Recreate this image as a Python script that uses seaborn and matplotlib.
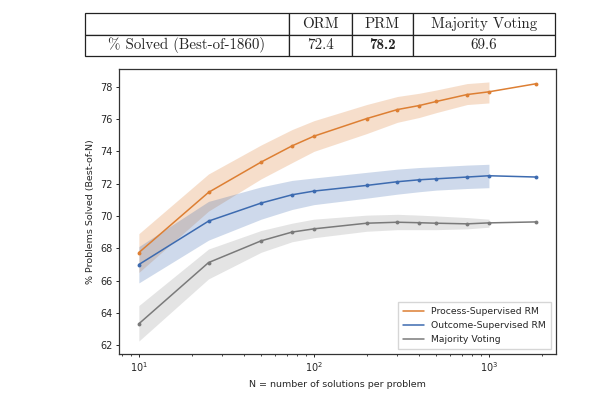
import numpy as np
import pandas as pd
import matplotlib
matplotlib.use('Agg')
import matplotlib.pyplot as plt
import seaborn as sns

# values
n_samples = [10, 25, 50, 75, 100, 200, 300, 400, 500, 750, 1000, 1860]
prm = [67.73, 71.46, 73.34, 74.34, 74.94, 76.03, 76.59, 76.84, 77.09, 77.52, 77.69, 78.19]
orm = [66.99, 69.68, 70.80, 71.31, 71.54, 71.89, 72.12, 72.24, 72.30, 72.41, 72.49, 72.41]
maj = [63.32, 67.11, 68.46, 69.00, 69.20, 69.55, 69.61, 69.58, 69.55, 69.51, 69.57, 69.63]

# shaded bands only go up to N=1000
band_n = n_samples[:11]
prm_hi = [68.9, 72.6, 74.4, 75.35, 75.9, 76.9, 77.4, 77.6, 77.8, 78.2, 78.3]
prm_lo = [66.5, 70.3, 72.3, 73.3, 74.0, 75.1, 75.8, 76.1, 76.4, 76.9, 77.0]
orm_hi = [68.1, 70.9, 71.8, 72.2, 72.35, 72.7, 72.9, 73.0, 73.05, 73.15, 73.2]
orm_lo = [65.85, 68.5, 69.8, 70.4, 70.7, 71.1, 71.35, 71.5, 71.6, 71.7, 71.75]
maj_hi = [64.45, 67.95, 69.1, 69.55, 69.8, 70.05, 70.1, 70.05, 70.0, 69.9, 69.8]
maj_lo = [62.25, 66.1, 67.75, 68.4, 68.65, 69.05, 69.15, 69.15, 69.15, 69.2, 69.3]

series_names = ['Process-Supervised RM', 'Outcome-Supervised RM', 'Majority Voting']
table_cols = ['', 'ORM', 'PRM', 'Majority Voting']
table_row = ['% Solved (Best-of-1860)', '72.4', '78.2', '69.6']

colors = ['#dd7f33', '#3d6bb0', '#7a7a7a']
band_alpha = [0.25, 0.25, 0.2]

sns.set_style('ticks')
plt.rcParams['font.family'] = ['DejaVu Sans']

fig = plt.figure(figsize=(6.12, 3.98), dpi=100)

# ---- table on top
tax = fig.add_axes([85/612, 1-55.7/398, 470/612, 42.4/398])
tax.axis('off')
tbl = tax.table(cellText=[table_cols, table_row], cellLoc='center',
                colWidths=[204, 63, 61, 142], bbox=[0, 0, 1, 1])
tbl.auto_set_font_size(False)
for (r, c), cell in tbl.get_celld().items():
    cell.set_linewidth(0.9)
    cell.set_edgecolor('#222222')
    txt = cell.get_text()
    txt.set_fontsize(10.8)
    txt.set_family(['cmr10', 'DejaVu Serif'])
    if r == 1 and c == 2:
        txt.set_family(['cmb10', 'DejaVu Serif'])
        txt.set_fontweight('bold')

# ---- main plot
ax = fig.add_axes([119/612, 1-354/398, 437/612, 285/398])

df = pd.DataFrame({
    'N': n_samples * 3,
    'solved': prm + orm + maj,
    'method': np.repeat(series_names, len(n_samples)),
})
bands = [(prm_lo, prm_hi), (orm_lo, orm_hi), (maj_lo, maj_hi)]

for name, col, (lo, hi), a in zip(series_names, colors, bands, band_alpha):
    sub = df[df['method'] == name]
    ax.fill_between(band_n, lo, hi, color=col, alpha=a, linewidth=0)
    sns.lineplot(data=sub, x='N', y='solved', ax=ax, color=col, label=name,
                 marker='o', markersize=2.8, markeredgewidth=0, linewidth=1.1)

ax.set_xscale('log')
ax.set_yticks(np.arange(62, 79, 2))
ax.set_xlabel('N = number of solutions per problem', fontsize=6.8)
ax.set_ylabel('% Problems Solved (Best-of-N)', fontsize=6.8)
ax.tick_params(labelsize=7, length=2.5, width=0.7, pad=2)
ax.tick_params(which='minor', length=1.5, width=0.6)
for sp in ax.spines.values():
    sp.set_linewidth(0.9)
    sp.set_color('#333333')

leg = ax.legend(loc='lower right', fontsize=6.7, frameon=True, fancybox=False,
                edgecolor='#cccccc', handlelength=2.2, borderpad=0.6)
for h in leg.legend_handles:
    h.set_marker('')

fig.savefig('out.png', dpi=100)
